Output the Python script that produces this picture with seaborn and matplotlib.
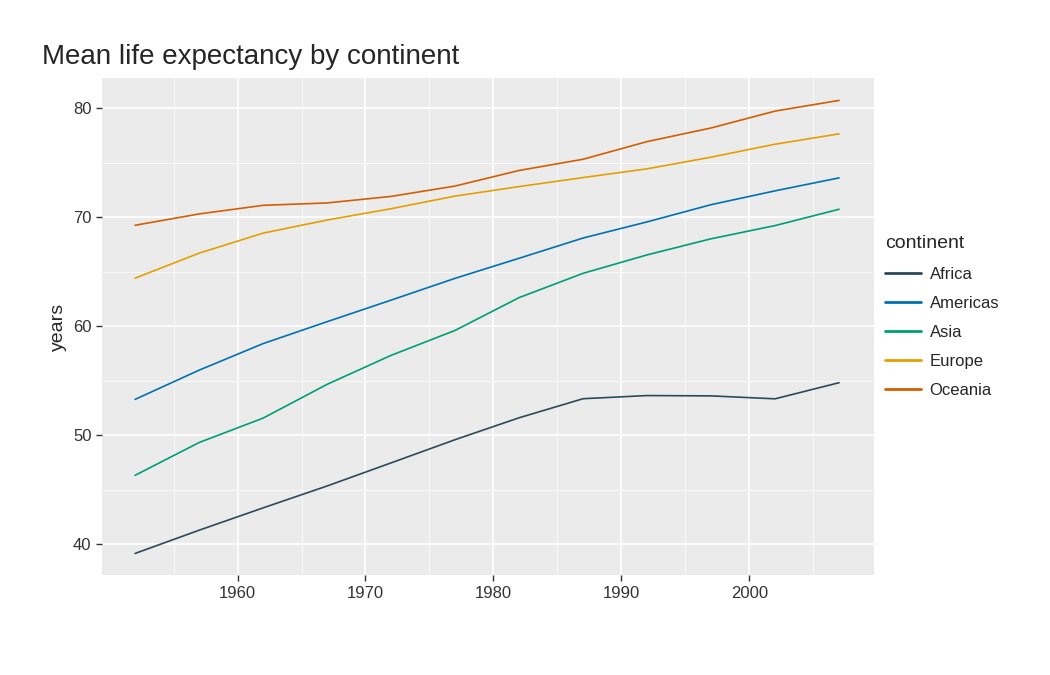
import matplotlib
matplotlib.use("Agg")
import matplotlib.pyplot as plt
import seaborn as sns
import pandas as pd
from matplotlib.ticker import MultipleLocator, FixedLocator

years = [1952, 1957, 1962, 1967, 1972, 1977, 1982, 1987, 1992, 1997, 2002, 2007]
continents = ["Africa", "Americas", "Asia", "Europe", "Oceania"]
africa = [39.14, 41.27, 43.32, 45.33, 47.45, 49.58, 51.59, 53.34, 53.63, 53.60, 53.33, 54.81]
americas = [53.28, 55.96, 58.40, 60.41, 62.39, 64.39, 66.23, 68.09, 69.57, 71.15, 72.42, 73.61]
asia = [46.31, 49.32, 51.56, 54.66, 57.32, 59.61, 62.62, 64.85, 66.54, 68.02, 69.23, 70.73]
europe = [64.41, 66.70, 68.54, 69.74, 70.78, 71.94, 72.81, 73.64, 74.44, 75.51, 76.70, 77.65]
oceania = [69.26, 70.30, 71.09, 71.31, 71.91, 72.86, 74.29, 75.32, 76.94, 78.19, 79.74, 80.72]
xticks = [1960, 1970, 1980, 1990, 2000]
colors = ["#2b4a5a", "#0072B2", "#009E73", "#E69F00", "#D55E00"]

rows = []
for name, vals in zip(continents, [africa, americas, asia, europe, oceania]):
    for y, v in zip(years, vals):
        rows.append({"year": y, "years": v, "continent": name})
df = pd.DataFrame(rows)

sns.set_theme(style="darkgrid", rc={"axes.facecolor": "#EBEBEB", "grid.color": "white",
                                    "xtick.major.size": 4, "ytick.major.size": 4,
                                    "xtick.bottom": True, "ytick.left": True})
plt.rcParams["font.family"] = ["Liberation Sans", "DejaVu Sans"]

fig = plt.figure(figsize=(10.5, 6.75), dpi=100)
ax = fig.add_axes([0.097, 0.148, 0.735, 0.736])
sns.lineplot(data=df, x="year", y="years", hue="continent", palette=colors,
             hue_order=continents, ax=ax, linewidth=1.2)
ax.set_xlim(1949.4, 2009.7)
ax.set_ylim(37.15, 82.75)
ax.xaxis.set_major_locator(FixedLocator(xticks))
ax.yaxis.set_major_locator(MultipleLocator(10))
ax.xaxis.set_minor_locator(FixedLocator([1955, 1965, 1975, 1985, 1995, 2005]))
ax.yaxis.set_minor_locator(MultipleLocator(5))
ax.grid(which="major", color="white", linewidth=1.2)
ax.grid(which="minor", color="white", linewidth=0.5)
for s in ax.spines.values():
    s.set_visible(False)
ax.tick_params(axis="both", which="major", length=4, width=1, color="#333333",
               labelsize=12, labelcolor="#333333", bottom=True, left=True)
ax.tick_params(which="minor", length=0)
ax.set_xlabel("")
ax.set_ylabel("years", fontsize=14)
fig.text(0.04, 0.905, "Mean life expectancy by continent", fontsize=20)
leg = ax.legend(title="continent", loc="center left", bbox_to_anchor=(0.995, 0.52),
                frameon=False, fontsize=12, title_fontsize=14, handlelength=2.2,
                labelspacing=0.85, handletextpad=0.5)
leg._legend_box.align = "left"
for l in leg.get_lines():
    l.set_linewidth(2)
fig.savefig("out.png", dpi=100)
